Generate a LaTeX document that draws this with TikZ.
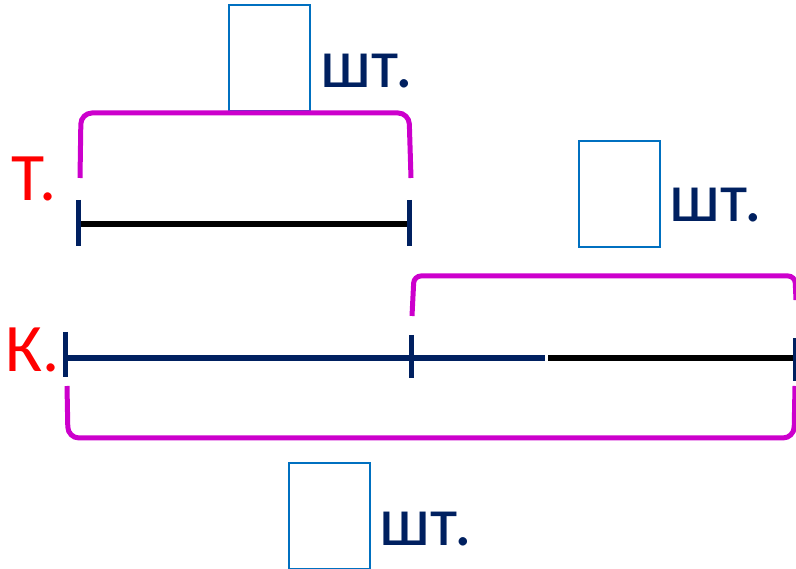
\documentclass[tikz,border=0pt]{standalone}
\usepackage{fontspec}
\setmainfont{Carlito}
\definecolor{brk}{HTML}{CC00CC}
\definecolor{navy}{HTML}{002060}
\definecolor{boxblue}{HTML}{0070C0}
\begin{document}
\begin{tikzpicture}[x=1pt,y=-1pt,
  brace/.style={draw=brk,line width=5pt,rounded corners=11pt},
  seg/.style={line width=5.5pt},
  tick/.style={draw=navy,line width=5pt},
  ansbox/.style={draw=boxblue,line width=1.6pt,minimum width=81pt,minimum height=106pt,inner sep=0pt,anchor=north west},
  unit/.style={text=navy,font=\fontsize{70}{70}\selectfont,inner sep=0pt,anchor=base west},
  lbl/.style={text=red,font=\fontsize{68}{68}\selectfont,inner sep=0pt,anchor=base west}]
\useasboundingbox (0,0) rectangle (796,569);
% boxes and units
\node[ansbox] (b1) at (228,4) {};
\node[unit] (u1) at (320,88) {шт.};
\node[ansbox] (b2) at (578,140) {};
\node[unit] (u2) at (669,222) {шт.};
\node[ansbox] (b3) at (288,462) {};
\node[unit] (u3) at (379,545) {шт.};
% labels
\node[lbl] (lt) at (11,201) {Т.};
\node[lbl] (lk) at (5,372) {К.};
% top segment
\coordinate (t1) at (78,224);
\coordinate (t2) at (409,224);
\draw[seg,black] (t1) -- (t2);
\draw[tick] (78,200) -- (78,246);
\draw[tick] (409,200) -- (409,246);
% bottom segment
\coordinate (k1) at (65,358);
\coordinate (k2) at (411,358);
\coordinate (km) at (545,358);
\coordinate (kn) at (548,358);
\coordinate (k3) at (796,358);
\draw[seg,black] (kn) -- (k3);
\draw[seg,navy] (k1) -- (km);
\draw[tick] (65,332) -- (65,377);
\draw[tick] (411,335) -- (411,378);
\draw[tick] (795,338) -- (795,381);
% braces
\draw[brace] (80,178) -- (81,113) -- (409,113) -- (411,178);
\draw[brace,rounded corners=7pt] (412,316) -- (414,276) -- (795,276) -- (796,300);
\draw[brace] (67,386) -- (68,438) -- (794,438) -- (795,386);
\end{tikzpicture}
\end{document}
